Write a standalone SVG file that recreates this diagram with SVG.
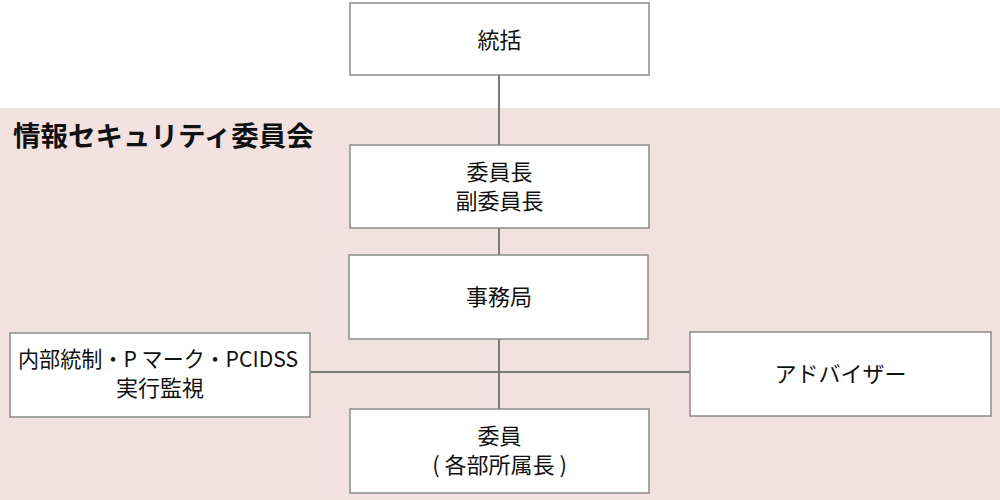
<svg xmlns="http://www.w3.org/2000/svg" width="1000" height="500" viewBox="0 0 1000 500">
<style>
.box{fill:#ffffff;stroke:#8a8a8a;stroke-width:1.5}
.t{font-family:"Noto Sans CJK JP","Noto Sans",sans-serif;font-size:22px;fill:#111;text-anchor:middle}
.title{font-family:"Noto Sans CJK JP","Noto Sans",sans-serif;font-size:27.5px;font-weight:bold;fill:#111}
.c{stroke:#7a7a7a;stroke-width:2;fill:none}
</style>
<rect x="0" y="0" width="1000" height="500" fill="#ffffff"/>
<rect id="committee-area" x="0" y="108" width="1000" height="392" fill="#f2e1e1"/>
<text class="title" x="13" y="146">情報セキュリティ委員会</text>
<g id="connectors">
<line class="c" x1="499" y1="75" x2="499" y2="145"/>
<line class="c" x1="499" y1="228" x2="499" y2="255"/>
<line class="c" x1="499" y1="339" x2="499" y2="409"/>
<line class="c" x1="310" y1="372" x2="690" y2="372"/>
</g>
<g id="node-tokatsu">
<rect class="box" x="350" y="3" width="299" height="72"/>
<text class="t" x="499.5" y="48">統括</text>
</g>
<g id="node-iincho">
<rect class="box" x="350" y="145" width="299" height="83"/>
<text class="t" x="499.5" y="180">委員長</text>
<text class="t" x="499.5" y="209">副委員長</text>
</g>
<g id="node-jimukyoku">
<rect class="box" x="349" y="255" width="299" height="84"/>
<text class="t" x="499" y="305">事務局</text>
</g>
<g id="node-kansa">
<rect class="box" x="10" y="333" width="300" height="84"/>
<text class="t" x="158" y="367" textLength="280" lengthAdjust="spacingAndGlyphs">内部統制・P マーク・PCIDSS</text>
<text class="t" x="160" y="396">実行監視</text>
</g>
<g id="node-advisor">
<rect class="box" x="690" y="332" width="301" height="84"/>
<text class="t" x="840.5" y="382">アドバイザー</text>
</g>
<g id="node-iin">
<rect class="box" x="350" y="409" width="299" height="84"/>
<text class="t" x="499.5" y="444">委員</text>
<text class="t" x="499.5" y="473">( 各部所属長 )</text>
</g>
</svg>
